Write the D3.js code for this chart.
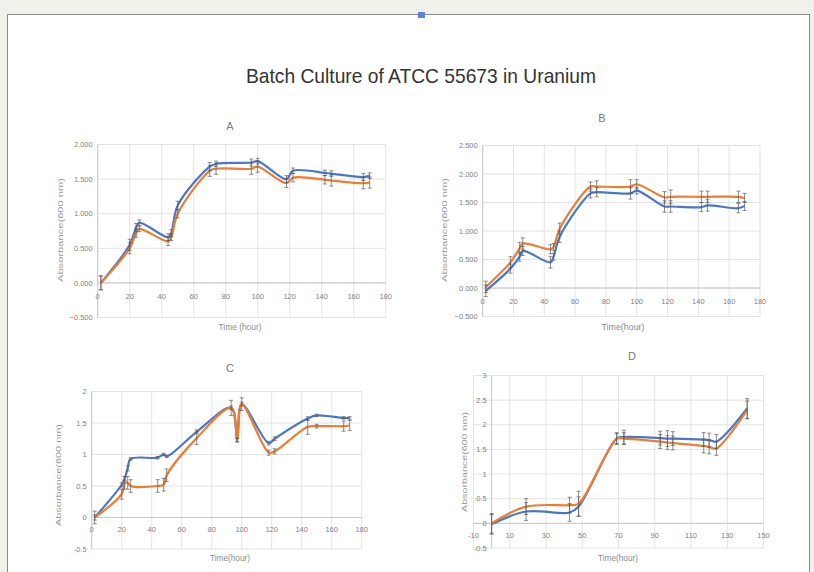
<!DOCTYPE html>
<html>
<head>
<meta charset="utf-8">
<script src="https://cdn.jsdelivr.net/npm/d3@7"></script>
<style>
  html, body { margin: 0; padding: 0; background: #f1f1ec; }
  svg { display: block; }
  text { font-family: "Liberation Sans Narrow", "Liberation Sans", Arial, sans-serif; }
</style>
</head>
<body>
<svg id="chart" width="814" height="572"></svg>
<script>
// ---- Panel A ----
const timeA   = [2, 20, 24, 26, 44, 46, 50, 70, 74, 96, 100, 118, 122, 142, 146, 166, 170];
const blueA   = [0.00, 0.55, 0.80, 0.87, 0.66, 0.72, 1.12, 1.68, 1.72, 1.74, 1.76, 1.50, 1.62, 1.59, 1.58, 1.53, 1.55];
const orangeA = [0.00, 0.50, 0.72, 0.78, 0.60, 0.66, 1.00, 1.62, 1.65, 1.65, 1.68, 1.44, 1.52, 1.49, 1.48, 1.44, 1.45];
const errBlueA   = [0.10, 0.08, 0.06, 0.04, 0.05, 0.05, 0.06, 0.06, 0.04, 0.05, 0.04, 0.05, 0.04, 0.04, 0.04, 0.05, 0.04];
const errOrangeA = [0.10, 0.08, 0.06, 0.04, 0.06, 0.05, 0.06, 0.08, 0.08, 0.08, 0.08, 0.06, 0.06, 0.06, 0.08, 0.08, 0.08];

// ---- Panel B ----
const timeB   = [2, 18, 24, 26, 44, 46, 50, 70, 74, 96, 100, 118, 122, 142, 146, 166, 170];
const blueB   = [-0.05, 0.34, 0.55, 0.65, 0.45, 0.55, 0.90, 1.66, 1.68, 1.66, 1.71, 1.43, 1.43, 1.42, 1.45, 1.40, 1.44];
const orangeB = [0.02, 0.45, 0.70, 0.78, 0.68, 0.72, 1.04, 1.78, 1.78, 1.78, 1.82, 1.59, 1.60, 1.60, 1.60, 1.60, 1.58];
const errBlueB   = [0.10, 0.08, 0.08, 0.08, 0.10, 0.06, 0.10, 0.08, 0.08, 0.10, 0.06, 0.10, 0.10, 0.08, 0.10, 0.08, 0.08];
const errOrangeB = [0.10, 0.10, 0.10, 0.10, 0.08, 0.06, 0.10, 0.08, 0.10, 0.12, 0.08, 0.10, 0.12, 0.10, 0.10, 0.10, 0.08];

// ---- Panel C ----
const timeC   = [2, 20, 22, 24, 26, 44, 48, 50, 70, 93, 97, 100, 118, 122, 144, 150, 168, 172];
const blueC   = [0.00, 0.52, 0.62, 0.78, 0.93, 0.95, 1.00, 0.97, 1.36, 1.74, 1.23, 1.80, 1.18, 1.25, 1.57, 1.62, 1.58, 1.58];
const orangeC = [0.00, 0.37, 0.55, 0.55, 0.50, 0.50, 0.52, 0.67, 1.26, 1.74, 1.23, 1.80, 1.03, 1.05, 1.44, 1.45, 1.45, 1.46];
const errBlueC   = [0.04, 0.03, 0.03, 0.04, 0.02, 0.02, 0.02, 0.02, 0.03, 0.03, 0.03, 0.03, 0.03, 0.03, 0.03, 0.02, 0.02, 0.02];
const errOrangeC = [0.10, 0.08, 0.10, 0.10, 0.10, 0.10, 0.10, 0.10, 0.10, 0.12, 0.03, 0.10, 0.04, 0.04, 0.12, 0.03, 0.08, 0.08];

// ---- Panel D ----
const timeD   = [0, 19, 43, 48, 69, 73, 93, 97, 100, 117, 120, 124, 141];
const blueD   = [-0.02, 0.24, 0.22, 0.34, 1.72, 1.75, 1.73, 1.72, 1.72, 1.70, 1.69, 1.66, 2.33];
const orangeD = [0.00, 0.34, 0.37, 0.40, 1.72, 1.72, 1.66, 1.64, 1.63, 1.57, 1.55, 1.52, 2.30];
const errBlueD   = [0.20, 0.18, 0.18, 0.20, 0.12, 0.14, 0.14, 0.16, 0.14, 0.14, 0.14, 0.14, 0.20];
const errOrangeD = [0.20, 0.16, 0.16, 0.25, 0.10, 0.12, 0.14, 0.14, 0.14, 0.14, 0.14, 0.14, 0.18];

// ---- Axis tick labels ----
const xTicksABC = [0, 20, 40, 60, 80, 100, 120, 140, 160, 180];
const xTicksD   = [-10, 10, 30, 50, 70, 90, 110, 130, 150];
const yTicksA   = [-0.5, 0, 0.5, 1, 1.5, 2];
const yTicksB   = [-0.5, 0, 0.5, 1, 1.5, 2, 2.5];
const yTicksC   = [-0.5, 0, 0.5, 1, 1.5, 2];
const yTicksD   = [-0.5, 0, 0.5, 1, 1.5, 2, 2.5, 3];

const seriesColors = ["#4a78c8", "#ed7d31"];

const svg = d3.select("#chart");

// page frame
svg.append("rect").attr("x", 0).attr("y", 0).attr("width", 814).attr("height", 572).attr("fill", "#f1f1ec");
svg.append("rect").attr("x", 7.5).attr("y", 14.5).attr("width", 802).attr("height", 570)
  .attr("fill", "#ffffff").attr("stroke", "#8a8a8a").attr("stroke-width", 1);
svg.append("rect").attr("x", 418).attr("y", 12).attr("width", 7).attr("height", 6).attr("fill", "#5b86cf");

svg.append("text")
  .attr("x", 421).attr("y", 83)
  .attr("text-anchor", "middle")
  .attr("font-size", 21)
  .attr("fill", "#333")
  .attr("textLength", 350).attr("lengthAdjust", "spacingAndGlyphs")
  .text("Batch Culture of ATCC 55673 in Uranium");

function panel(cfg) {
  const g = svg.append("g");
  const x = d3.scaleLinear().domain(cfg.xDomain).range(cfg.xRange);
  const y = d3.scaleLinear().domain(cfg.yDomain).range(cfg.yRange);

  // horizontal gridlines
  g.selectAll(".hg").data(cfg.yTicks).join("line")
    .attr("x1", cfg.xRange[0]).attr("x2", cfg.xRange[1])
    .attr("y1", d => y(d)).attr("y2", d => y(d))
    .attr("stroke", "#dcdcdc").attr("stroke-width", 0.8);
  // vertical gridlines
  g.selectAll(".vg").data(cfg.xTicks).join("line")
    .attr("x1", d => x(d)).attr("x2", d => x(d))
    .attr("y1", cfg.yRange[0]).attr("y2", cfg.yRange[1])
    .attr("stroke", "#dcdcdc").attr("stroke-width", 0.8);
  // axis lines crossing at zero
  g.append("line").attr("x1", cfg.xRange[0]).attr("x2", cfg.xRange[1])
    .attr("y1", y(0)).attr("y2", y(0)).attr("stroke", "#c8c8c8").attr("stroke-width", 1);
  g.append("line").attr("x1", x(0)).attr("x2", x(0))
    .attr("y1", cfg.yRange[0]).attr("y2", cfg.yRange[1]).attr("stroke", "#c8c8c8").attr("stroke-width", 1);

  // tick labels
  g.selectAll(".yl").data(cfg.yTicks).join("text")
    .attr("x", x(0) - 5).attr("y", d => y(d) + 2.7)
    .attr("text-anchor", "end").attr("font-size", 7.5).attr("fill", "#7f7f7f")
    .text(cfg.yFormat);
  g.selectAll(".xl").data(cfg.xTicks).join("text")
    .attr("x", d => x(d)).attr("y", y(0) + cfg.xLabelDy)
    .attr("text-anchor", "middle").attr("font-size", 7.5).attr("fill", "#7f7f7f")
    .text(d => d);

  // titles
  g.append("text").attr("x", cfg.title[1]).attr("y", cfg.title[2])
    .attr("text-anchor", "middle").attr("font-size", 11).attr("fill", "#7a7a7a")
    .text(cfg.title[0]);
  g.append("text").attr("x", cfg.xTitle[1]).attr("y", cfg.xTitle[2])
    .attr("text-anchor", "middle").attr("font-size", 8.5).attr("fill", "#8a8a8a")
    .attr("textLength", cfg.xTitle[3]).attr("lengthAdjust", "spacingAndGlyphs")
    .text(cfg.xTitle[0]);
  g.append("text")
    .attr("transform", `translate(${cfg.yTitle[0]},${cfg.yTitle[1]}) rotate(-90)`)
    .attr("text-anchor", "middle").attr("font-size", 7).attr("fill", "#999")
    .attr("textLength", cfg.yTitle[2]).attr("lengthAdjust", "spacingAndGlyphs")
    .text("Absorbance(600 nm)");

  const line = d3.line()
    .x(d => x(d.t)).y(d => y(d.v))
    .curve(d3.curveCatmullRom.alpha(0.5));

  cfg.series.forEach((s, i) => {
    const pts = cfg.time.map((t, k) => ({ t, v: s.values[k], e: s.err[k] }));
    g.append("path").datum(pts)
      .attr("fill", "none").attr("stroke", seriesColors[i])
      .attr("stroke-width", 2.2).attr("stroke-linejoin", "round")
      .attr("d", line);
  });

  // error bars
  cfg.series.forEach((s, i) => {
    const pts = cfg.time.map((t, k) => ({ t, v: s.values[k], e: s.err[k] }));
    const eb = g.append("g").attr("stroke", "#5a5a5a").attr("stroke-width", 0.7);
    eb.selectAll(".v").data(pts).join("line")
      .attr("x1", d => x(d.t)).attr("x2", d => x(d.t))
      .attr("y1", d => y(d.v - d.e)).attr("y2", d => y(d.v + d.e));
    eb.selectAll(".ct").data(pts).join("line")
      .attr("x1", d => x(d.t) - 2).attr("x2", d => x(d.t) + 2)
      .attr("y1", d => y(d.v + d.e)).attr("y2", d => y(d.v + d.e));
    eb.selectAll(".cb").data(pts).join("line")
      .attr("x1", d => x(d.t) - 2).attr("x2", d => x(d.t) + 2)
      .attr("y1", d => y(d.v - d.e)).attr("y2", d => y(d.v - d.e));
  });
}

panel({
  xDomain: [0, 180], xRange: [97.7, 385.7],
  yDomain: [-0.5, 2], yRange: [317.5, 144.5],
  xTicks: xTicksABC, yTicks: yTicksA, yFormat: d3.format(".3f"), xLabelDy: 16,
  title: ["A", 230, 130], xTitle: ["Time (hour)", 240, 330, 43], yTitle: [63, 230, 104],
  time: timeA,
  series: [{ values: blueA, err: errBlueA }, { values: orangeA, err: errOrangeA }]
});

panel({
  xDomain: [0, 180], xRange: [482.7, 760],
  yDomain: [-0.5, 2.5], yRange: [316.5, 145.5],
  xTicks: xTicksABC, yTicks: yTicksB, yFormat: d3.format(".3f"), xLabelDy: 16,
  title: ["B", 602, 122], xTitle: ["Time(hour)", 623, 330, 43], yTitle: [447, 230, 104],
  time: timeB,
  series: [{ values: blueB, err: errBlueB }, { values: orangeB, err: errOrangeB }]
});

panel({
  xDomain: [0, 180], xRange: [91.7, 361.7],
  yDomain: [-0.5, 2], yRange: [549, 391.5],
  xTicks: xTicksABC, yTicks: yTicksC, yFormat: d => d, xLabelDy: 14,
  title: ["C", 230, 372], xTitle: ["Time(hour)", 230, 561, 40], yTitle: [61, 475, 102],
  time: timeC,
  series: [{ values: blueC, err: errBlueC }, { values: orangeC, err: errOrangeC }]
});

panel({
  xDomain: [-10, 150], xRange: [473.5, 763.5],
  yDomain: [-0.5, 3], yRange: [548, 375.5],
  xTicks: xTicksD, yTicks: yTicksD, yFormat: d => d, xLabelDy: 15,
  title: ["D", 632, 360], xTitle: ["Time(hour)", 618, 561, 40], yTitle: [467, 462, 100],
  time: timeD,
  series: [{ values: blueD, err: errBlueD }, { values: orangeD, err: errOrangeD }]
});
</script>
</body>
</html>
